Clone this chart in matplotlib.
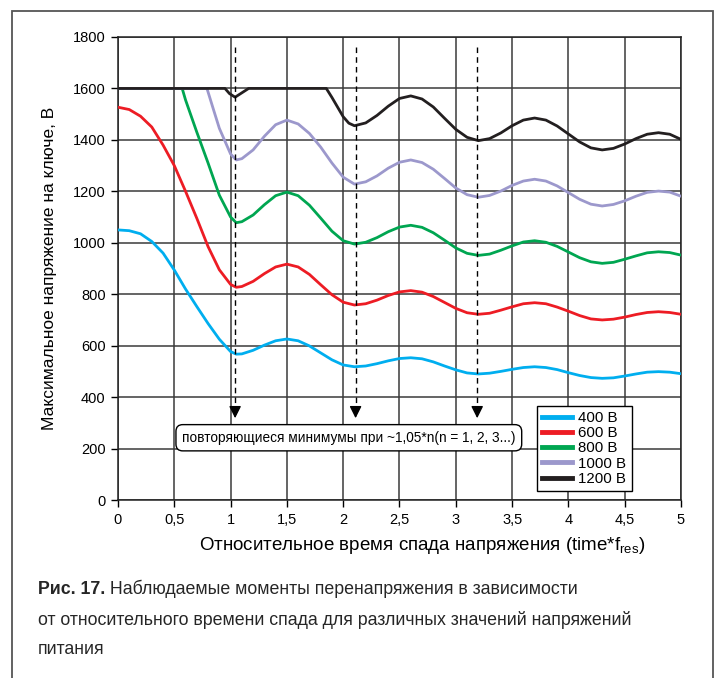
import matplotlib
matplotlib.use('Agg')
import matplotlib.pyplot as plt
from matplotlib.patches import Rectangle

plt.rcParams['font.family'] = ['Liberation Sans', 'DejaVu Sans']

# series: supply voltage -> max switch voltage vs. relative fall time
labels = ['400 В', '600 В', '800 В', '1000 В', '1200 В']
colors = ['#00AEEF', '#ED1C24', '#00A651', '#9C98CC', '#231F20']

x_tail = [1.1, 1.2, 1.3, 1.4, 1.5, 1.6, 1.7, 1.8, 1.9, 2.0,
          2.1, 2.2, 2.3, 2.4, 2.5, 2.6, 2.7, 2.8, 2.9, 3.0,
          3.1, 3.2, 3.3, 3.4, 3.5, 3.6, 3.7, 3.8, 3.9, 4.0,
          4.1, 4.2, 4.3, 4.4, 4.5, 4.6, 4.7, 4.8, 4.9, 5.0]

x_400 = [0, 0.1, 0.2, 0.3, 0.4, 0.5, 0.6, 0.7, 0.8, 0.9, 1.0, 1.05] + x_tail
v_400 = [1050, 1047, 1035, 1005, 960, 894, 820, 752, 686, 625, 577, 567,
         568, 582, 602, 619, 626, 619, 599, 572, 545, 525,
         518, 521, 530, 541, 550, 553, 549, 537, 521, 506,
         494, 490, 493, 500, 508, 515, 518, 515, 507, 495,
         484, 476, 473, 475, 482, 490, 497, 499, 497, 491]

x_600 = [0, 0.1, 0.2, 0.3, 0.4, 0.5, 0.6, 0.7, 0.8, 0.9, 1.0, 1.05] + x_tail
v_600 = [1527, 1518, 1492, 1450, 1380, 1300, 1200, 1095, 985, 895, 838, 827,
         830, 850, 880, 906, 917, 906, 877, 837, 798, 769,
         758, 763, 777, 795, 809, 814, 808, 791, 768, 745,
         728, 722, 726, 738, 751, 763, 767, 763, 750, 734,
         717, 704, 700, 703, 711, 721, 729, 732, 729, 722]

x_800 = [0, 0.57, 0.6, 0.7, 0.8, 0.9, 1.0, 1.05] + x_tail
v_800 = [1600, 1600, 1555, 1430, 1310, 1185, 1100, 1078,
         1082, 1108, 1148, 1183, 1197, 1183, 1146, 1096, 1045, 1008,
         995, 1002, 1020, 1043, 1061, 1068, 1060, 1039, 1010, 980,
         959, 951, 956, 971, 988, 1003, 1008, 1002, 986, 964,
         942, 926, 920, 924, 936, 949, 961, 965, 962, 952]

x_1000 = [0, 0.79, 0.85, 0.9, 1.0, 1.05] + x_tail
v_1000 = [1600, 1600, 1515, 1445, 1345, 1322,
          1327, 1361, 1414, 1459, 1477, 1462, 1425, 1372, 1310, 1255,
          1228, 1237, 1260, 1290, 1313, 1322, 1312, 1286, 1250, 1213,
          1187, 1177, 1184, 1201, 1223, 1240, 1247, 1240, 1221, 1195,
          1169, 1150, 1143, 1149, 1163, 1181, 1196, 1201, 1197, 1181]

x_1200 = [0, 0.95, 0.99, 1.04, 1.1, 1.16, 1.85, 1.9, 2.0, 2.05] + x_tail[10:]
v_1200 = [1600, 1600, 1580, 1566, 1583, 1600, 1600, 1565, 1490, 1465,
          1455, 1466, 1495, 1531, 1561, 1571, 1559, 1528, 1484, 1441,
          1410, 1397, 1405, 1427, 1455, 1477, 1485, 1477, 1454, 1423,
          1392, 1369, 1361, 1367, 1384, 1405, 1422, 1428, 1422, 1402]

series_x = [x_400, x_600, x_800, x_1000, x_1200]
series_v = [v_400, v_600, v_800, v_1000, v_1200]

minima_x = [1.04, 2.11, 3.19]
x_ticks = [0, 0.5, 1, 1.5, 2, 2.5, 3, 3.5, 4, 4.5, 5]
x_ticklabels = ['0', '0,5', '1', '1,5', '2', '2,5', '3', '3,5', '4', '4,5', '5']
y_ticks = [0, 200, 400, 600, 800, 1000, 1200, 1400, 1600, 1800]

fig = plt.figure(figsize=(7.19, 6.78), dpi=100)
ax = fig.add_axes([118 / 719, 178 / 678, 563 / 719, 463 / 678])

for xs, vs, c, lab in zip(series_x, series_v, colors, labels):
    ax.plot(xs, vs, color=c, lw=2.0, label=lab, zorder=3, solid_joinstyle='round')

ax.set_xlim(0, 5)
ax.set_ylim(0, 1800)
ax.set_xticks(x_ticks)
ax.set_xticklabels(x_ticklabels)
ax.set_yticks(y_ticks)
ax.grid(True, color='#3a3a3a', lw=1.1, zorder=1)
ax.set_axisbelow(True)
ax.tick_params(direction='out', length=5, width=1, labelsize=10.5, colors='black', pad=4)
for s in ax.spines.values():
    s.set_color('#222222')
    s.set_linewidth(1.1)

# dashed markers of the repeating minima
for xm in minima_x:
    ax.plot([xm, xm], [1760, 360], color='black', lw=1.0, ls=(0, (4, 3)), zorder=4)
    ax.annotate('', xy=(xm, 318), xytext=(xm, 362),
                arrowprops=dict(arrowstyle='-|>', lw=1.0, color='black',
                                mutation_scale=18, shrinkA=0, shrinkB=0),
                zorder=4)

ax.text(2.05, 242, 'повторяющиеся минимумы при ~1,05*n(n = 1, 2, 3...)', fontsize=9.8,
        ha='center', va='center', zorder=5,
        bbox=dict(boxstyle='round,pad=0.45,rounding_size=0.5', fc='white', ec='black', lw=1.0))

leg = ax.legend(loc='lower left', bbox_to_anchor=((537 - 118) / 563, (500 - 491) / 463),
                fancybox=False, edgecolor='black', framealpha=1, fontsize=10.8,
                handlelength=2.0, labelspacing=0.08, borderpad=0.35, handletextpad=0.4,
                borderaxespad=0)
leg.get_frame().set_linewidth(1.0)
leg.set_zorder(6)
for h in leg.legend_handles:
    h.set_linewidth(3.5)

ax.set_ylabel('Максимальное напряжение на ключе, В', fontsize=12.5, labelpad=11)
ax.set_xlabel('Относительное время спада напряжения (time*f$_{\\mathregular{res}}$)',
              fontsize=13.5)
ax.xaxis.set_label_coords(0.54, -0.075)

# caption and frame
fig.patches.append(Rectangle((12 / 719, -0.02), 701 / 719, 1.02 - 11 / 678,
                             transform=fig.transFigure, fill=False, ec='#555555', lw=1.3))
cap_font = ['Liberation Sans', 'DejaVu Sans']
cap_size = 12.8
cap_color = '#262626'
t1 = fig.text(38 / 719, 1 - 590 / 678, 'Рис. 17.', fontsize=cap_size, fontweight='bold',
              family=cap_font, color=cap_color, va='center')
ax.annotate(' Наблюдаемые моменты перенапряжения в зависимости', xy=(1, 0), xycoords=t1,
            ha='left', va='bottom', fontsize=cap_size, family=cap_font, color=cap_color,
            annotation_clip=False)
fig.text(38 / 719, 1 - 620 / 678, 'от относительного времени спада для различных значений напряжений',
         fontsize=cap_size, family=cap_font, color=cap_color, va='center')
fig.text(38 / 719, 1 - 650 / 678, 'питания', fontsize=cap_size, family=cap_font,
         color=cap_color, va='center')

fig.savefig('out.png', dpi=100)
